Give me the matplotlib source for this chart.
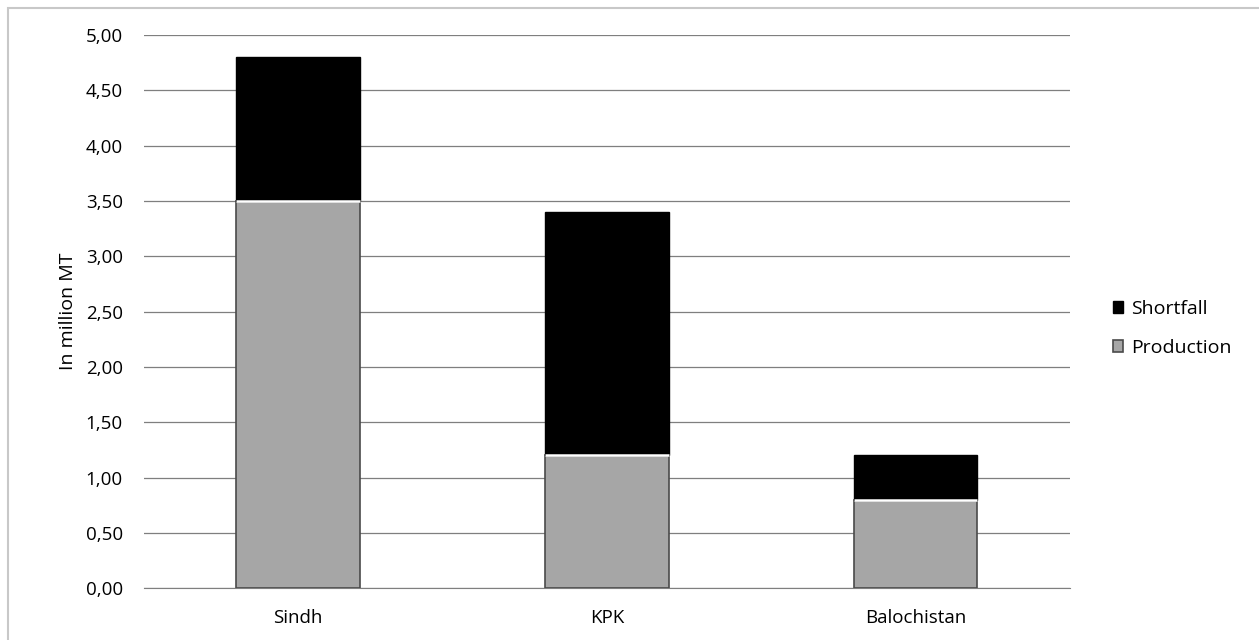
import numpy as np
import matplotlib.pyplot as plt
from matplotlib.patches import Rectangle

# ============================================================
# Data (million MT)
# ============================================================
regions = ['Sindh', 'KPK', 'Balochistan']
production = [3.5, 1.2, 0.8]
shortfall = [1.3, 2.2, 0.4]
yticks = np.arange(0, 5.01, 0.5)

plt.rcParams['font.family'] = ['Open Sans', 'DejaVu Sans']

fig = plt.figure(figsize=(12.59, 6.40), dpi=100)
ax = fig.add_axes([0.114, 0.081, 0.736, 0.864])

# figure frame (light gray, top-left visible)
fig.patches.append(Rectangle((8 / 1259, -0.1), 1.2, 1.1 - 8 / 640,
                             transform=fig.transFigure, fill=False,
                             edgecolor='#c8c8c8', lw=1.5))

x = np.arange(len(regions))
w = 0.4
ax.bar(x, production, w, color='#a6a6a6', edgecolor='#4a4a4a', lw=1.2,
       label='Production', zorder=3)
ax.bar(x, shortfall, w, bottom=production, color='black', edgecolor='black',
       lw=1.0, label='Shortfall', zorder=3)
ax.hlines(production, x - w / 2, x + w / 2, color='white', lw=1.8, zorder=4)

ax.set_xlim(-0.5, len(regions) - 0.5)
ax.set_ylim(0, 5)
ax.set_yticks(yticks)
ax.set_yticklabels([f'{v:.2f}'.replace('.', ',') for v in yticks])
ax.set_xticks(x)
ax.set_xticklabels(regions)
ax.yaxis.grid(True, color='#7f7f7f', lw=0.9, zorder=0)
ax.set_axisbelow(True)
for s in ['top', 'right', 'left']:
    ax.spines[s].set_visible(False)
ax.spines['bottom'].set_color('#7f7f7f')
ax.tick_params(axis='both', length=0, labelsize=13.5, colors='black')
ax.tick_params(axis='y', pad=15)
ax.tick_params(axis='x', pad=15)
ax.set_ylabel('In million MT', fontsize=14, labelpad=6)

handles, labels = ax.get_legend_handles_labels()
ax.legend(handles[::-1], labels[::-1], loc='center left',
          bbox_to_anchor=(1.027, 0.47), frameon=False, fontsize=14,
          handlelength=0.55, handleheight=0.55, labelspacing=1.1,
          handletextpad=0.4)

fig.savefig('out.png', dpi=100)
